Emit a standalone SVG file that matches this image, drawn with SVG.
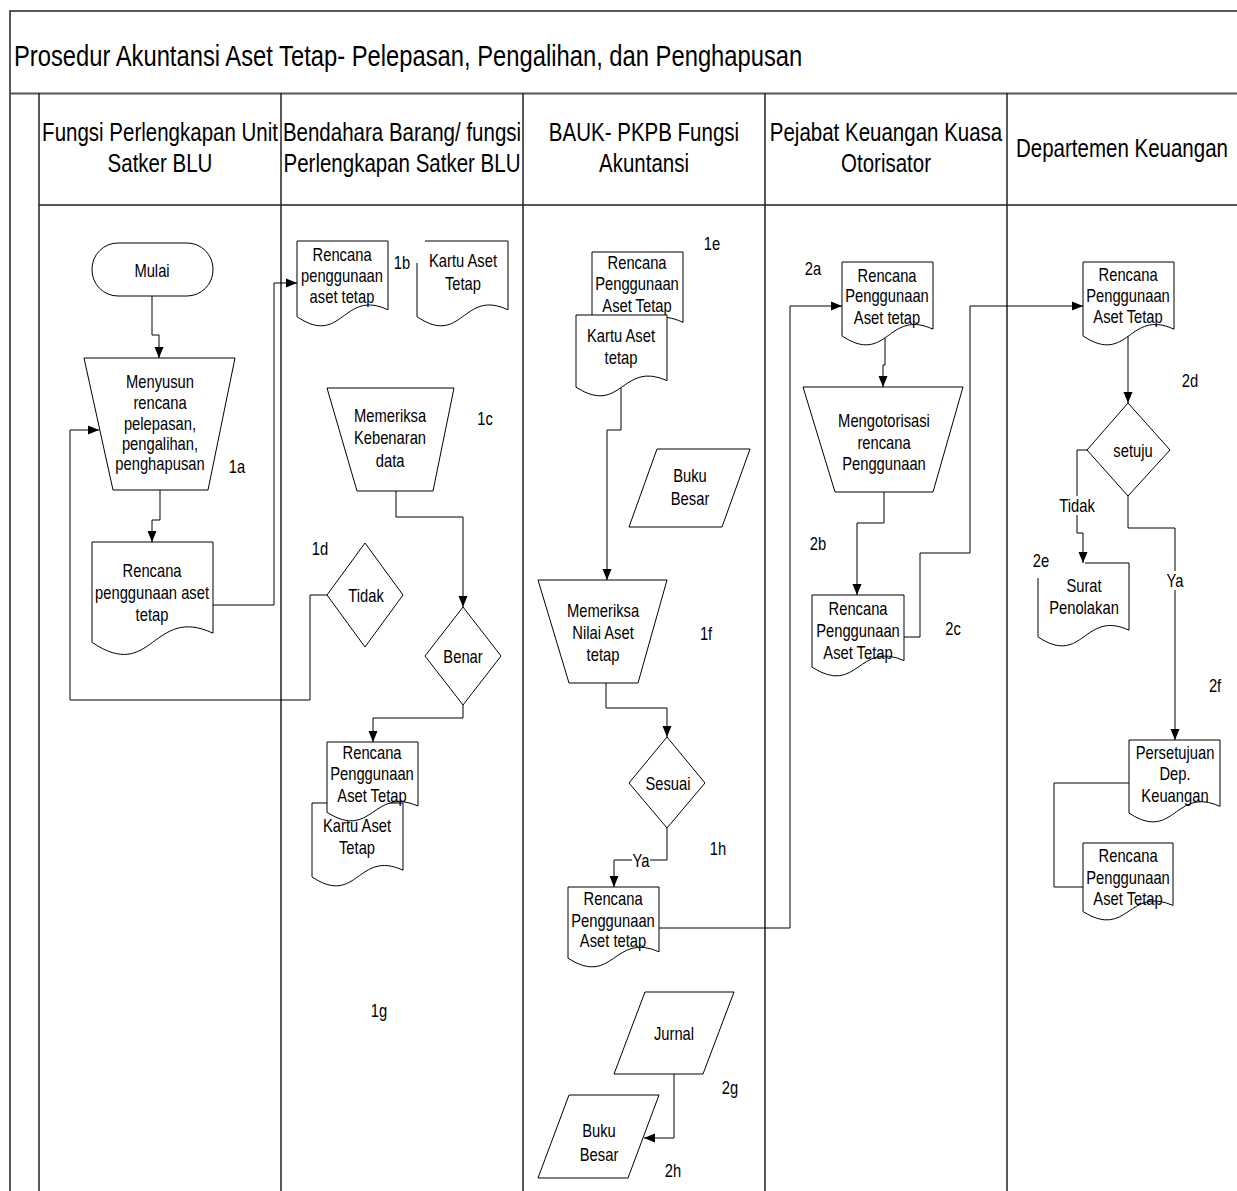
<svg xmlns="http://www.w3.org/2000/svg" xmlns:xlink="http://www.w3.org/1999/xlink" width="1237" height="1191" viewBox="0 0 1237 1191">
  <style>
    text { font-family: "Liberation Sans", Arial, sans-serif; fill: #000; }
    /* narrow face: horizontally condensed sans */
    .t, .lbl, .hdr { text-anchor: middle; dominant-baseline: central; transform-box: fill-box; transform-origin: center; transform: scaleX(0.82); }
    .t, .lbl { font-size: 18px; }
    .hdr { font-size: 25px; }
    .title { font-size: 29px; dominant-baseline: central; transform-box: fill-box; transform-origin: left center; transform: scaleX(0.82); }
    .shape { fill: #fff; stroke: #000; stroke-width: 1; }
    .conn { fill: none; stroke: #000; stroke-width: 1; }
    .frame { fill: none; stroke: #222; stroke-width: 1.5; }
    .rule { fill: none; stroke: #555; stroke-width: 2.2; }
    .bg { fill: #fff; stroke: none; }
  </style>
  <defs>
    <!-- unit document symbol: flat top, wavy bottom -->
    <path id="doc" d="M0,0 H1 V0.8 C0.5,0.55 0.5,1.24 0,0.88 Z" vector-effect="non-scaling-stroke"/>
    <marker id="arrow" markerUnits="userSpaceOnUse" markerWidth="12" markerHeight="10" refX="11" refY="5" orient="auto">
      <path d="M0,0.5 L11,5 L0,9.5 Z" fill="#000"/>
    </marker>
  </defs>

  <rect width="1237" height="1191" fill="#fff"/>

  <!-- swimlane frame -->
  <g id="frame">
    <path class="frame" d="M10,1191 V11 H1237"/>
    <path class="rule" d="M10,93.5 H1237"/>
    <path class="rule" d="M39,205 H1237"/>
    <path class="frame" d="M39,93 V1191 M281,93 V1191 M523,93 V1191 M765,93 V1191 M1007,93 V1191"/>
    <text class="title" x="14" y="56">Prosedur Akuntansi Aset Tetap- Pelepasan, Pengalihan, dan Penghapusan</text>
    <text class="hdr" x="160" y="132">Fungsi Perlengkapan Unit</text>
    <text class="hdr" x="160" y="163">Satker BLU</text>
    <text class="hdr" x="402" y="132">Bendahara Barang/ fungsi</text>
    <text class="hdr" x="402" y="163">Perlengkapan Satker BLU</text>
    <text class="hdr" x="644" y="132">BAUK- PKPB Fungsi</text>
    <text class="hdr" x="644" y="163">Akuntansi</text>
    <text class="hdr" x="886" y="132">Pejabat Keuangan Kuasa</text>
    <text class="hdr" x="886" y="163">Otorisator</text>
    <text class="hdr" x="1122" y="148">Departemen Keuangan</text>
  </g>

  <!-- connectors -->
  <g id="connectors">
    <path class="conn" d="M152,296 V335 H159 V358" marker-end="url(#arrow)"/>
    <path class="conn" d="M160,490 V520 H152 V542" marker-end="url(#arrow)"/>
    <path class="conn" d="M213,605 H274 V283 H297" marker-end="url(#arrow)"/>
    <path class="conn" d="M327,595 H310 V700 H70 V430 H99" marker-end="url(#arrow)"/>
    <path class="conn" d="M396,491 V517 H463 V607" marker-end="url(#arrow)"/>
    <path class="conn" d="M463,705 V718 H373 V742" marker-end="url(#arrow)"/>
    <path class="conn" d="M621,386 V430 H607 V580" marker-end="url(#arrow)"/>
    <path class="conn" d="M606,683 V708 H667 V737" marker-end="url(#arrow)"/>
    <path class="conn" d="M667,828 V860 H614 V887" marker-end="url(#arrow)"/>
    <path class="conn" d="M659,928 H790 V306 H842" marker-end="url(#arrow)"/>
    <path class="conn" d="M885,335 V365 H883 V387" marker-end="url(#arrow)"/>
    <path class="conn" d="M884,492 V523 H857 V595" marker-end="url(#arrow)"/>
    <path class="conn" d="M904,637 H920 V553 H970 V306 H1083" marker-end="url(#arrow)"/>
    <path class="conn" d="M1128,335 V403" marker-end="url(#arrow)"/>
    <path class="conn" d="M1087,450 H1077 V533 H1083 V563" marker-end="url(#arrow)"/>
    <path class="conn" d="M1128,496 V528 H1175 V740" marker-end="url(#arrow)"/>
    <path class="conn" d="M1129,783 H1054 V887 H1083"/>
    <path class="conn" d="M674,1074 V1138 H644" marker-end="url(#arrow)"/>
    <!-- branch labels -->
    <rect class="bg" x="632" y="851" width="18" height="18"/>
    <text class="lbl" x="641" y="860">Ya</text>
    <rect class="bg" x="1062" y="496" width="30" height="19"/>
    <text class="lbl" x="1077" y="505">Tidak</text>
    <rect class="bg" x="1167" y="571" width="17" height="19"/>
    <text class="lbl" x="1175" y="580">Ya</text>
  </g>

  <!-- lane 1: Fungsi Perlengkapan Unit Satker BLU -->
  <g id="mulai">
    <rect class="shape" x="92" y="243" width="121" height="53" rx="26" ry="26"/>
    <text class="t" x="152" y="270">Mulai</text>
  </g>
  <g id="menyusun">
    <path class="shape" d="M84,358 H235 L208,490 H113 Z"/>
    <text class="t" x="160" y="381">Menyusun</text>
    <text class="t" x="160" y="402">rencana</text>
    <text class="t" x="160" y="423">pelepasan,</text>
    <text class="t" x="160" y="443">pengalihan,</text>
    <text class="t" x="160" y="463">penghapusan</text>
  </g>
  <g id="doc-1a">
    <use xlink:href="#doc" class="shape" transform="translate(92,542) scale(121,114)"/>
    <text class="t" x="152" y="570">Rencana</text>
    <text class="t" x="152" y="592">penggunaan aset</text>
    <text class="t" x="152" y="614">tetap</text>
  </g>
  <text class="lbl" x="237" y="466">1a</text>

  <!-- lane 2: Bendahara Barang -->
  <g id="doc-1b-rencana">
    <use xlink:href="#doc" class="shape" transform="translate(297,241) scale(91,86)"/>
    <text class="t" x="342" y="254">Rencana</text>
    <text class="t" x="342" y="275">penggunaan</text>
    <text class="t" x="342" y="296">aset tetap</text>
  </g>
  <text class="lbl" x="402" y="262">1b</text>
  <g id="doc-1b-kartu">
    <path class="shape" d="M417,263 V316.7 C462.5,347.6 462.5,288.3 508,309.8 V241 H425"/>
    <text class="t" x="463" y="260">Kartu Aset</text>
    <text class="t" x="463" y="283">Tetap</text>
  </g>
  <g id="memeriksa-kebenaran">
    <path class="shape" d="M327,388 H454 L433,491 H357 Z"/>
    <text class="t" x="390" y="415">Memeriksa</text>
    <text class="t" x="390" y="437">Kebenaran</text>
    <text class="t" x="390" y="460">data</text>
  </g>
  <text class="lbl" x="485" y="418">1c</text>
  <g id="tidak">
    <path class="shape" d="M365,543 L403,595 L365,647 L327,595 Z"/>
    <text class="t" x="366" y="595">Tidak</text>
  </g>
  <text class="lbl" x="320" y="548">1d</text>
  <g id="benar">
    <path class="shape" d="M463,607 L501,656 L463,705 L425,656 Z"/>
    <text class="t" x="463" y="656">Benar</text>
  </g>
  <g id="doc-kartu-2">
    <use xlink:href="#doc" class="shape" transform="translate(312,803) scale(91,84)"/>
    <text class="t" x="357" y="825">Kartu Aset</text>
    <text class="t" x="357" y="847">Tetap</text>
  </g>
  <g id="doc-rencana-2">
    <use xlink:href="#doc" class="shape" transform="translate(327,742) scale(91,80)"/>
    <text class="t" x="372" y="752">Rencana</text>
    <text class="t" x="372" y="773">Penggunaan</text>
    <text class="t" x="372" y="795">Aset Tetap</text>
  </g>
  <text class="lbl" x="379" y="1010">1g</text>

  <!-- lane 3: BAUK- PKPB Fungsi Akuntansi -->
  <text class="lbl" x="712" y="243">1e</text>
  <g id="doc-1e-rencana">
    <use xlink:href="#doc" class="shape" transform="translate(592,252) scale(91,88)"/>
    <text class="t" x="637" y="262">Rencana</text>
    <text class="t" x="637" y="283">Penggunaan</text>
    <text class="t" x="637" y="305">Aset Tetap</text>
  </g>
  <g id="doc-1e-kartu">
    <use xlink:href="#doc" class="shape" transform="translate(576,315) scale(91,82)"/>
    <text class="t" x="621" y="335">Kartu Aset</text>
    <text class="t" x="621" y="357">tetap</text>
  </g>
  <g id="buku-besar-1">
    <path class="shape" d="M657,449 H750 L722,527 H629 Z"/>
    <text class="t" x="690" y="475">Buku</text>
    <text class="t" x="690" y="498">Besar</text>
  </g>
  <g id="memeriksa-nilai">
    <path class="shape" d="M538,580 H667 L638,683 H569 Z"/>
    <text class="t" x="603" y="610">Memeriksa</text>
    <text class="t" x="603" y="632">Nilai Aset</text>
    <text class="t" x="603" y="654">tetap</text>
  </g>
  <text class="lbl" x="706" y="633">1f</text>
  <g id="sesuai">
    <path class="shape" d="M667,737 L705,783 L667,828 L629,783 Z"/>
    <text class="t" x="668" y="783">Sesuai</text>
  </g>
  <text class="lbl" x="718" y="848">1h</text>
  <g id="doc-1h-rencana">
    <use xlink:href="#doc" class="shape" transform="translate(568,887) scale(91,81)"/>
    <text class="t" x="613" y="898">Rencana</text>
    <text class="t" x="613" y="920">Penggunaan</text>
    <text class="t" x="613" y="940">Aset tetap</text>
  </g>
  <g id="jurnal">
    <path class="shape" d="M645,992 H734 L703,1074 H614 Z"/>
    <text class="t" x="674" y="1033">Jurnal</text>
  </g>
  <text class="lbl" x="730" y="1087">2g</text>
  <g id="buku-besar-2">
    <path class="shape" d="M569,1095 H659 L628,1178 H538 Z"/>
    <text class="t" x="599" y="1130">Buku</text>
    <text class="t" x="599" y="1154">Besar</text>
  </g>
  <text class="lbl" x="673" y="1170">2h</text>

  <!-- lane 4: Pejabat Keuangan Kuasa Otorisator -->
  <text class="lbl" x="813" y="268">2a</text>
  <g id="doc-2a-rencana">
    <use xlink:href="#doc" class="shape" transform="translate(842,262) scale(91,84)"/>
    <text class="t" x="887" y="275">Rencana</text>
    <text class="t" x="887" y="295">Penggunaan</text>
    <text class="t" x="887" y="317">Aset tetap</text>
  </g>
  <g id="mengotorisasi">
    <path class="shape" d="M803,387 H963 L933,492 H835 Z"/>
    <text class="t" x="884" y="420">Mengotorisasi</text>
    <text class="t" x="884" y="442">rencana</text>
    <text class="t" x="884" y="463">Penggunaan</text>
  </g>
  <text class="lbl" x="818" y="543">2b</text>
  <g id="doc-2b-rencana">
    <use xlink:href="#doc" class="shape" transform="translate(812,595) scale(92,82)"/>
    <text class="t" x="858" y="608">Rencana</text>
    <text class="t" x="858" y="630">Penggunaan</text>
    <text class="t" x="858" y="652">Aset Tetap</text>
  </g>
  <text class="lbl" x="953" y="628">2c</text>

  <!-- lane 5: Departemen Keuangan -->
  <g id="doc-2d-rencana">
    <use xlink:href="#doc" class="shape" transform="translate(1083,262) scale(91,84)"/>
    <text class="t" x="1128" y="274">Rencana</text>
    <text class="t" x="1128" y="295">Penggunaan</text>
    <text class="t" x="1128" y="316">Aset Tetap</text>
  </g>
  <text class="lbl" x="1190" y="380">2d</text>
  <g id="setuju">
    <path class="shape" d="M1128,403 L1170,450 L1128,496 L1087,450 Z"/>
    <text class="t" x="1133" y="450">setuju</text>
  </g>
  <text class="lbl" x="1041" y="560">2e</text>
  <g id="surat-penolakan">
    <path class="shape" d="M1038,578 V636.9 C1083.5,667.2 1083.5,609.2 1129,630.2 V563 H1085"/>
    <text class="t" x="1084" y="585">Surat</text>
    <text class="t" x="1084" y="607">Penolakan</text>
  </g>
  <text class="lbl" x="1215" y="685">2f</text>
  <g id="persetujuan">
    <use xlink:href="#doc" class="shape" transform="translate(1129,740) scale(91,83)"/>
    <text class="t" x="1175" y="752">Persetujuan</text>
    <text class="t" x="1175" y="773">Dep.</text>
    <text class="t" x="1175" y="795">Keuangan</text>
  </g>
  <g id="doc-2f-rencana">
    <use xlink:href="#doc" class="shape" transform="translate(1083,843) scale(90,78)"/>
    <text class="t" x="1128" y="855">Rencana</text>
    <text class="t" x="1128" y="877">Penggunaan</text>
    <text class="t" x="1128" y="898">Aset Tetap</text>
  </g>
</svg>
